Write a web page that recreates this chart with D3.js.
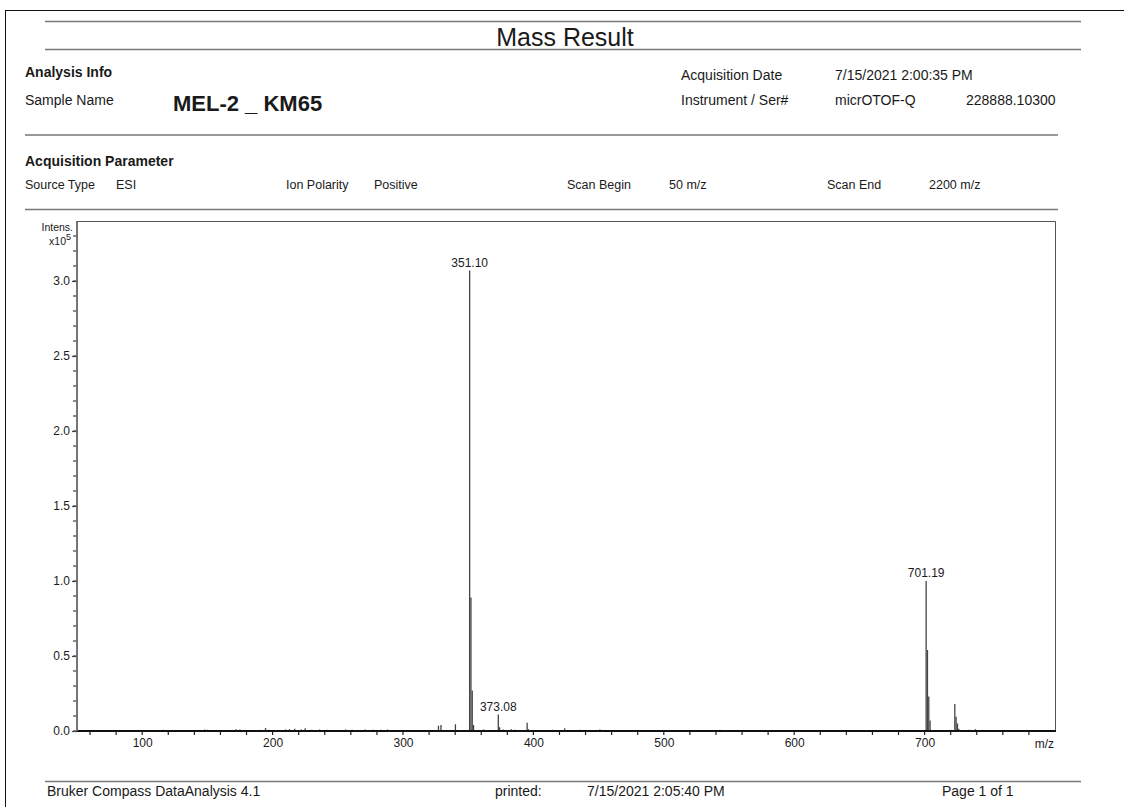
<!DOCTYPE html>
<html>
<head>
<meta charset="utf-8">
<script src="https://cdn.jsdelivr.net/npm/d3@7"></script>
<style>
  html, body { margin: 0; padding: 0; background: #fff; }
  svg { display: block; }
  text { font-family: "Liberation Sans", Arial, sans-serif; fill: #1a1a1a; }
</style>
</head>
<body>
<svg id="chart" width="1124" height="807"></svg>
<script>
// ---- data (intensities in units of 1e5) ----
const peakMz = [62, 75, 88, 116, 120, 148, 150, 160, 172, 175, 183, 190, 194.6, 197, 204, 210, 213, 217, 222, 225, 230, 236, 242, 249, 256, 261, 266, 271, 277, 283, 288, 294, 300, 318, 327.2, 329.1, 340.2, 351.10, 352.10, 353.10, 354.1, 362, 373.08, 374.08, 377, 383, 386, 395.2, 396.2, 415, 424, 436, 451, 475, 510, 543, 610, 701.19, 702.2, 703.2, 704.2, 723.17, 724.17, 725.17, 726.2, 734, 739, 745];
const peakIntensity = [0.004, 0.003, 0.004, 0.008, 0.006, 0.010, 0.008, 0.006, 0.012, 0.010, 0.006, 0.008, 0.020, 0.008, 0.006, 0.010, 0.012, 0.015, 0.010, 0.018, 0.008, 0.010, 0.008, 0.006, 0.010, 0.008, 0.007, 0.010, 0.008, 0.009, 0.010, 0.006, 0.005, 0.006, 0.035, 0.040, 0.045, 3.07, 0.89, 0.27, 0.04, 0.010, 0.11, 0.025, 0.010, 0.012, 0.008, 0.055, 0.012, 0.008, 0.018, 0.008, 0.010, 0.004, 0.006, 0.008, 0.006, 1.00, 0.54, 0.23, 0.07, 0.18, 0.095, 0.05, 0.015, 0.008, 0.012, 0.006];
const labelMz = [351.10, 373.08, 701.19];
const labelIntensity = [3.07, 0.11, 1.00];
const labelText = ["351.10", "373.08", "701.19"];
const xTickValues = [100, 200, 300, 400, 500, 600, 700];
const yTickValues = [0.0, 0.5, 1.0, 1.5, 2.0, 2.5, 3.0];

(function () {
const svg = d3.select("#chart");
const W = 1124, H = 807;

// ---- page frame ----
svg.append("line").attr("x1", 5).attr("x2", W).attr("y1", 10.5).attr("y2", 10.5).attr("stroke", "#111").attr("stroke-width", 1);
svg.append("line").attr("x1", 5.5).attr("x2", 5.5).attr("y1", 10).attr("y2", H).attr("stroke", "#111").attr("stroke-width", 1);

function hline(yy, x1, x2) {
  svg.append("line").attr("x1", x1).attr("x2", x2).attr("y1", yy).attr("y2", yy)
    .attr("stroke", "#777").attr("stroke-width", 1.6);
}
function txt(xx, yy, s, size, weight, anchor) {
  return svg.append("text").attr("x", xx).attr("y", yy).text(s)
    .attr("font-size", size).attr("font-weight", weight || "normal")
    .attr("text-anchor", anchor || "start");
}

// ---- header ----
hline(21.5, 45, 1081);
hline(49.5, 45, 1081);
txt(565, 46, "Mass Result", 25, "normal", "middle");

txt(25, 77, "Analysis Info", 14, "bold");
txt(25, 105, "Sample Name", 14);
txt(173, 111, "MEL-2 _ KM65", 22, "bold");
txt(681, 80, "Acquisition Date", 14);
txt(835, 80, "7/15/2021 2:00:35 PM", 14);
txt(681, 105, "Instrument / Ser#", 14);
txt(835, 105, "micrOTOF-Q", 14);
txt(966, 105, "228888.10300", 14);

hline(135, 25, 1058);
txt(25, 166, "Acquisition Parameter", 14, "bold");
txt(25, 189, "Source Type", 12.5);
txt(116, 189, "ESI", 12.5);
txt(286, 189, "Ion Polarity", 12.5);
txt(374, 189, "Positive", 12.5);
txt(567, 189, "Scan Begin", 12.5);
txt(669, 189, "50 m/z", 12.5);
txt(827, 189, "Scan End", 12.5);
txt(929, 189, "2200 m/z", 12.5);
hline(209.5, 25, 1058);

// ---- footer ----
hline(781.5, 45, 1081);
txt(47, 796, "Bruker Compass DataAnalysis 4.1", 14);
txt(495, 796, "printed:", 14);
txt(587, 796, "7/15/2021 2:05:40 PM", 14);
txt(942, 796, "Page 1 of 1", 14);

// ---- plot ----
const pL = 77, pR = 1055, pT = 221, pB = 731;
const x = d3.scaleLinear().domain([50, 800]).range([pL, pR]);
const y = d3.scaleLinear().domain([0, 3.4]).range([pB, pT]);

// frame top/right
svg.append("path")
  .attr("d", `M${pL},${pT + 0.5}H${pR + 0.5}V${pB}`)
  .attr("fill", "none").attr("stroke", "#555").attr("stroke-width", 1);

// peaks
svg.append("g").selectAll("line").data(peakMz).join("line")
  .attr("x1", d => x(d)).attr("x2", d => x(d))
  .attr("y1", y(0)).attr("y2", (d, i) => y(peakIntensity[i]))
  .attr("stroke", "#444").attr("stroke-width", 1.3);

// x axis minor ticks
const xMinor = d3.range(60, 800, 20);
svg.append("g").selectAll("line").data(xMinor).join("line")
  .attr("x1", d => x(d)).attr("x2", d => x(d))
  .attr("y1", pB - 1).attr("y2", pB + 4)
  .attr("stroke", "#222").attr("stroke-width", 1.2);

// x axis
const xAxis = d3.axisBottom(x).tickValues(xTickValues).tickSize(0).tickPadding(7)
  .tickFormat(d3.format("d"));
const gx = svg.append("g").attr("transform", `translate(0,${pB})`).call(xAxis);
gx.select(".domain").remove();
gx.selectAll("text").attr("font-size", 12).attr("font-family", "Liberation Sans, Arial, sans-serif").attr("fill", "#333");
svg.append("line").attr("x1", pL).attr("x2", pR + 1).attr("y1", pB).attr("y2", pB)
  .attr("stroke", "#111").attr("stroke-width", 1.8);
txt(pR - 1, pB + 17, "m/z", 12, "normal", "end").attr("fill", "#333");

// y axis minor ticks
const yMinor = d3.range(0, 34).map(i => i / 10);
svg.append("g").selectAll("line").data(yMinor).join("line")
  .attr("x1", pL - 4).attr("x2", pL)
  .attr("y1", d => y(d)).attr("y2", d => y(d))
  .attr("stroke", "#444").attr("stroke-width", 1.2);

const yAxis = d3.axisLeft(y).tickValues(yTickValues).tickSize(5).tickPadding(2)
  .tickFormat(d3.format(".1f"));
const gy = svg.append("g").attr("transform", `translate(${pL},0)`).call(yAxis);
gy.select(".domain").remove();
gy.selectAll(".tick line").attr("stroke", "#444").attr("stroke-width", 1.2);
gy.selectAll("text").attr("font-size", 12).attr("font-family", "Liberation Sans, Arial, sans-serif").attr("fill", "#333");
svg.append("line").attr("x1", pL).attr("x2", pL).attr("y1", pT).attr("y2", pB)
  .attr("stroke", "#666").attr("stroke-width", 1.8);

// axis title
txt(73, 231, "Intens.", 10.5, "normal", "end").attr("fill", "#333");
const yt = txt(71, 245, "x10", 10.5, "normal", "end").attr("fill", "#333");
yt.append("tspan").attr("dy", -5).attr("font-size", 9).text("5");

// peak labels
svg.append("g").selectAll("text").data(labelMz).join("text")
  .attr("x", d => x(d)).attr("y", (d, i) => y(labelIntensity[i]) - 4)
  .attr("text-anchor", "middle").attr("font-size", 12).attr("fill", "#333")
  .text((d, i) => labelText[i]);
})();
</script>
</body>
</html>
